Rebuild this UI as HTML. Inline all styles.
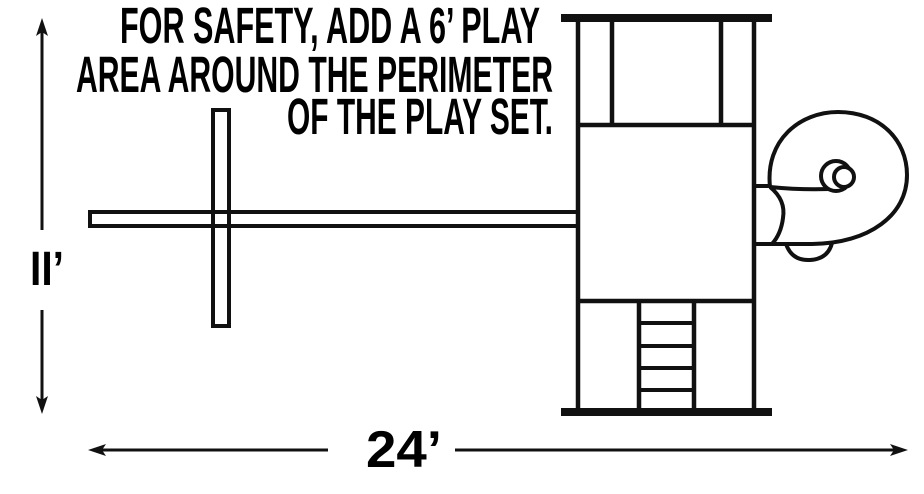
<!DOCTYPE html>
<html><head><meta charset="utf-8"><style>
html,body{margin:0;padding:0;background:#fff;}
svg{display:block;}
text{font-family:"Liberation Sans Narrow","Liberation Sans",sans-serif;font-weight:bold;fill:#000;}
</style></head><body>
<svg width="924" height="494" viewBox="0 0 924 494" xmlns="http://www.w3.org/2000/svg">
<g font-size="51">
<text x="120" y="43" textLength="420" lengthAdjust="spacingAndGlyphs">FOR SAFETY, ADD A 6’ PLAY</text>
<text x="76" y="92" textLength="477" lengthAdjust="spacingAndGlyphs">AREA AROUND THE PERIMETER</text>
<text x="287" y="134" textLength="266" lengthAdjust="spacingAndGlyphs">OF THE PLAY SET.</text>
</g>
<text x="30" y="285" font-size="48" textLength="34" lengthAdjust="spacingAndGlyphs">II’</text>
<text x="366" y="467" font-size="52" textLength="76" lengthAdjust="spacingAndGlyphs">24’</text>
<g stroke="#111" fill="none">
<line x1="42" y1="24" x2="42" y2="230" stroke-width="3"/>
<line x1="42" y1="310" x2="42" y2="408" stroke-width="3"/>
<line x1="96" y1="450" x2="328" y2="450" stroke-width="3"/>
<line x1="455" y1="450" x2="900" y2="450" stroke-width="3"/>
<rect x="213" y="110" width="16" height="216" stroke-width="4" fill="#fff"/>
<rect x="90" y="212" width="488" height="14" stroke-width="4" fill="#fff"/>
<line x1="213" y1="212" x2="213" y2="226" stroke-width="4"/>
<line x1="229" y1="212" x2="229" y2="226" stroke-width="4"/>
<line x1="578" y1="18" x2="578" y2="412" stroke-width="4.5"/>
<line x1="754" y1="18" x2="754" y2="412" stroke-width="4.5"/>
<line x1="612" y1="18" x2="612" y2="125" stroke-width="4.5"/>
<line x1="721" y1="18" x2="721" y2="125" stroke-width="4.5"/>
<line x1="578" y1="125" x2="754" y2="125" stroke-width="4.5"/>
<line x1="578" y1="301" x2="754" y2="301" stroke-width="4.5"/>
<line x1="639" y1="301" x2="639" y2="412" stroke-width="4.5"/>
<line x1="694" y1="301" x2="694" y2="412" stroke-width="4.5"/>
<line x1="639" y1="323" x2="694" y2="323" stroke-width="4"/>
<line x1="639" y1="346" x2="694" y2="346" stroke-width="4"/>
<line x1="639" y1="368" x2="694" y2="368" stroke-width="4"/>
<line x1="639" y1="390" x2="694" y2="390" stroke-width="4"/>
<line x1="561" y1="18" x2="772" y2="18" stroke-width="8"/>
<line x1="561" y1="412" x2="772" y2="412" stroke-width="8"/>
<path d="M786 244 Q792 261 810 260 Q828 259 832 243" stroke-width="4" fill="#fff"/>
<path d="M754 186 L770 186 M754 244 L774 244" stroke-width="4"/>
<path d="M770 187 C765 140 800 112 838 112 C880 112 907 140 907 175 C907 215 870 243 812 244 L772 244" stroke-width="4" fill="#fff"/>
<path d="M770 187 Q786 200 783 218 Q781 234 772 244" stroke-width="4"/>
<path d="M770 187 Q810 191 846 188" stroke-width="4"/>
<circle cx="836" cy="176" r="15" stroke-width="4" fill="#fff"/>
<circle cx="844" cy="177" r="10" stroke-width="4" fill="#fff"/>
</g>
<g fill="#111">
<path d="M42 18 L36 36 L42 32 L48 36 Z"/>
<path d="M42 414 L36 396 L42 400 L48 396 Z"/>
<path d="M88 450 L106 444 L102 450 L106 456 Z"/>
<path d="M908 450 L890 444 L894 450 L890 456 Z"/>
</g>
</svg>
</body></html>
